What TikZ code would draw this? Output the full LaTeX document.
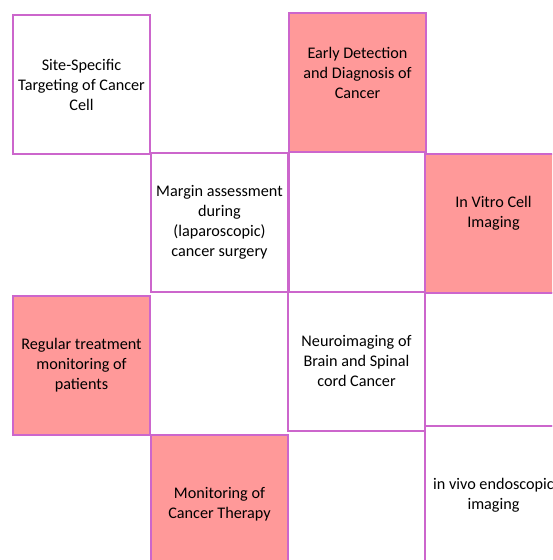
\documentclass[tikz,border=0pt]{standalone}
\usepackage{fontspec}
\setmainfont{Carlito}
\usetikzlibrary{positioning}

\definecolor{cellborder}{RGB}{204,102,204}
\definecolor{cellpink}{RGB}{255,153,153}

\tikzset{
  celltext/.style={align=center, font=\fontsize{16.2}{20}\selectfont},
  cell/.style={draw=cellborder, line width=2pt, fill=white, rectangle,
               inner sep=0pt, minimum width=137pt, minimum height=139pt,
               celltext},
  hot/.style={cell, fill=cellpink}
}

\begin{document}
\begin{tikzpicture}[x=1pt, y=-1pt]

  % --- frame ---
  \useasboundingbox (0,0) rectangle (552,560);
  \clip (0,0) rectangle (552,560);

  % --- first column ---
  \node[cell] (site) at (81.5,84.5) {Site-Specific\\Targeting of Cancer\\Cell};
  \node[hot]  (regular) at (81.5,365.5) {Regular treatment\\monitoring of\\patients};

  % --- second column ---
  \node[cell] (margin) at (219.5,222.5) {Margin assessment\\during\\(laparoscopic)\\cancer surgery};
  \node[hot]  (therapy) at (219.5,504) {Monitoring of\\Cancer Therapy};

  % --- third column ---
  \node[hot, label={[celltext, yshift=10pt]center:Early Detection\\and Diagnosis of\\Cancer}]
        (early) at (357.5,82.5) {};
  \node[cell, minimum height=140pt] (gapA) at (357,222) {};
  \node[cell] (neuro) at (356.5,361) {Neuroimaging of\\Brain and Spinal\\cord Cancer};

  % --- fourth column (runs off the page) ---
  \node[hot, label={[celltext, yshift=10pt]center:In Vitro Cell\\Imaging}]
        (vitro) at (493.5,223.5) {};
  \node[cell, minimum height=133pt] (gapB) at (493.5,359.5) {};
  \node[cell] (invivo) at (493.5,495.5) {in vivo endoscopic\\imaging};

\end{tikzpicture}
\end{document}
